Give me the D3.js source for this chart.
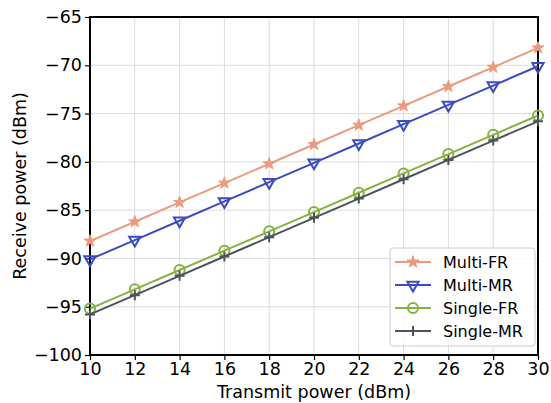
<!DOCTYPE html>
<html>
<head>
<meta charset="utf-8">
<script src="https://cdn.jsdelivr.net/npm/d3@7"></script>
<style>
  body { margin: 0; background: #fff; }
  text { font-family: "DejaVu Sans", sans-serif; }
</style>
</head>
<body>
<div id="chart"></div>
<script>
// data
var txPower = [10, 12, 14, 16, 18, 20, 22, 24, 26, 28, 30];
var multiFR = [-88.2, -86.2, -84.2, -82.2, -80.2, -78.2, -76.2, -74.2, -72.2, -70.2, -68.2];
var multiMR = [-90.1, -88.1, -86.1, -84.1, -82.1, -80.1, -78.1, -76.1, -74.1, -72.1, -70.1];
var singleFR = [-95.2, -93.2, -91.2, -89.2, -87.2, -85.2, -83.2, -81.2, -79.2, -77.2, -75.2];
var singleMR = [-95.8, -93.8, -91.8, -89.8, -87.8, -85.8, -83.8, -81.8, -79.8, -77.8, -75.8];
var xTicks = [10, 12, 14, 16, 18, 20, 22, 24, 26, 28, 30];
var yTicks = [-100, -95, -90, -85, -80, -75, -70, -65];
var seriesNames = ["Multi-FR", "Multi-MR", "Single-FR", "Single-MR"];

var series = [
    { name: seriesNames[0], values: multiFR, color: "#EC9A7E", marker: "star" },
    { name: seriesNames[1], values: multiMR, color: "#3B4CC0", marker: "tri" },
    { name: seriesNames[2], values: singleFR, color: "#86B240", marker: "circle" },
    { name: seriesNames[3], values: singleMR, color: "#4D5160", marker: "plus" }
];

var width = 551, height = 403;
var margin = { left: 90, right: 13, top: 17, bottom: 48 };
var plotW = width - margin.left - margin.right;
var plotH = height - margin.top - margin.bottom;
var fontSize = "17.5px";

var svg = d3.select("#chart").append("svg")
    .attr("width", width)
    .attr("height", height);

var x = d3.scaleLinear().domain([10, 30]).range([0, plotW]);
var y = d3.scaleLinear().domain([-100, -65]).range([plotH, 0]);

var g = svg.append("g")
    .attr("transform", "translate(" + margin.left + "," + margin.top + ")");

// grid
g.append("g").selectAll("line").data(xTicks).enter().append("line")
    .attr("x1", x).attr("x2", x)
    .attr("y1", 0).attr("y2", plotH)
    .style("stroke", "#dcdcdc").style("stroke-width", 1);
g.append("g").selectAll("line").data(yTicks).enter().append("line")
    .attr("y1", y).attr("y2", y)
    .attr("x1", 0).attr("x2", plotW)
    .style("stroke", "#dcdcdc").style("stroke-width", 1);

// axes
var xAxis = g.append("g")
    .attr("transform", "translate(0," + plotH + ")")
    .call(d3.axisBottom(x).tickValues(xTicks).tickSize(5).tickPadding(3).tickFormat(d3.format("d")));
var yAxis = g.append("g")
    .call(d3.axisLeft(y).tickValues(yTicks).tickSize(5).tickPadding(3)
        .tickFormat(function (d) { return d < 0 ? "\u2212" + Math.abs(d) : d; }));

[xAxis, yAxis].forEach(function (a) {
    a.select(".domain").remove();
    a.selectAll("line").style("stroke", "#000").style("stroke-width", 1.2);
    a.selectAll("text").style("font-size", fontSize).style("fill", "#000")
        .style("font-family", "DejaVu Sans, sans-serif");
});

// frame
g.append("rect")
    .attr("width", plotW).attr("height", plotH)
    .style("fill", "none").style("stroke", "#000").style("stroke-width", 2);

// markers
var star = d3.symbol().type(d3.symbolStar).size(45);
var tri = d3.symbol().type(d3.symbolTriangle).size(55);
var circ = d3.symbol().type(d3.symbolCircle).size(80);

function drawMarker(sel, kind, color) {
    if (kind === "star") {
        sel.append("path").attr("d", star())
            .style("fill", color).style("stroke", color).style("stroke-width", 1);
    } else if (kind === "tri") {
        sel.append("path").attr("d", tri()).attr("transform", "rotate(180)")
            .style("fill", "none").style("stroke", color).style("stroke-width", 2);
    } else if (kind === "circle") {
        sel.append("path").attr("d", circ())
            .style("fill", "none").style("stroke", color).style("stroke-width", 2);
    } else {
        sel.append("path").attr("d", "M-5,0H5M0,-5V5")
            .style("fill", "none").style("stroke", color).style("stroke-width", 2);
    }
}

var line = d3.line()
    .x(function (d, i) { return x(txPower[i]); })
    .y(function (d) { return y(d); });

series.forEach(function (s) {
    g.append("path").datum(s.values)
        .attr("d", line)
        .style("fill", "none").style("stroke", s.color).style("stroke-width", 2);
    g.append("g").selectAll("g").data(s.values).enter().append("g")
        .attr("transform", function (d, i) { return "translate(" + x(txPower[i]) + "," + y(d) + ")"; })
        .each(function () { drawMarker(d3.select(this), s.marker, s.color); });
});

// axis labels
svg.append("text")
    .attr("x", margin.left + plotW / 2).attr("y", 398)
    .attr("text-anchor", "middle")
    .style("font-size", fontSize)
    .text("Transmit power (dBm)");
svg.append("text")
    .attr("transform", "translate(26," + (margin.top + plotH / 2) + ") rotate(-90)")
    .attr("text-anchor", "middle")
    .style("font-size", fontSize)
    .text("Receive power (dBm)");

// legend
var legend = svg.append("g").attr("transform", "translate(390,248)");
legend.append("rect")
    .attr("width", 145).attr("height", 98).attr("rx", 3)
    .style("fill", "#fff").style("fill-opacity", 0.85)
    .style("stroke", "#cccccc").style("stroke-width", 1);
series.forEach(function (s, i) {
    var ly = 14 + i * 23;
    var row = legend.append("g").attr("transform", "translate(0," + ly + ")");
    row.append("line").attr("x1", 5).attr("x2", 41)
        .style("stroke", s.color).style("stroke-width", 2);
    var m = row.append("g").attr("transform", "translate(23,0)");
    drawMarker(m, s.marker, s.color);
    row.append("text").attr("x", 53).attr("y", 0).attr("dy", "0.35em")
        .style("font-size", "16px").text(s.name);
});
</script>
</body>
</html>
